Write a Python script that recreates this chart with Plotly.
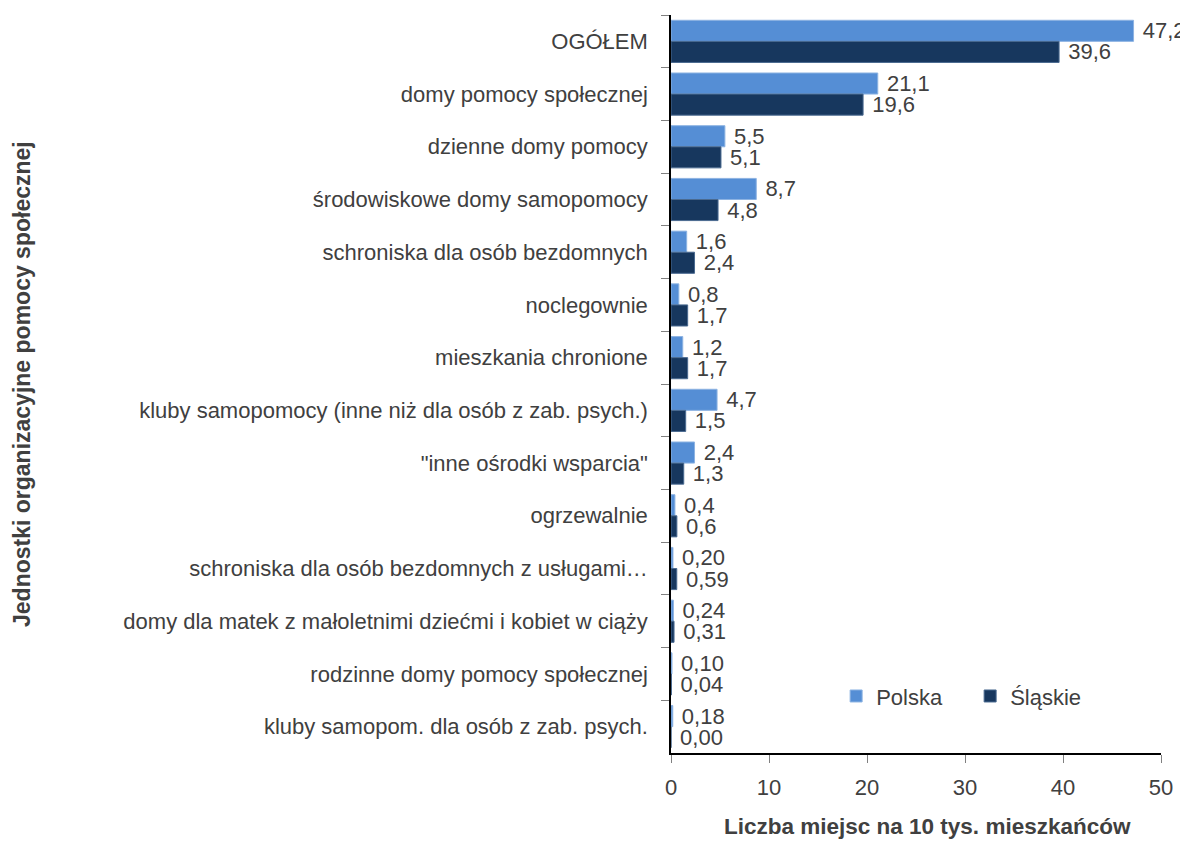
import plotly.graph_objects as go

categories = [
    "OGÓŁEM",
    "domy pomocy społecznej",
    "dzienne domy pomocy",
    "środowiskowe domy samopomocy",
    "schroniska dla osób bezdomnych",
    "noclegownie",
    "mieszkania chronione",
    "kluby samopomocy (inne niż dla osób z zab. psych.)",
    "\"inne ośrodki wsparcia\"",
    "ogrzewalnie",
    "schroniska dla osób bezdomnych z usługami…",
    "domy dla matek z małoletnimi dziećmi i kobiet w ciąży",
    "rodzinne domy pomocy społecznej",
    "kluby samopom. dla osób z zab. psych.",
]
polska = [47.2, 21.1, 5.5, 8.7, 1.6, 0.8, 1.2, 4.7, 2.4, 0.4, 0.20, 0.24, 0.10, 0.18]
polska_txt = ["47,2", "21,1", "5,5", "8,7", "1,6", "0,8", "1,2", "4,7", "2,4", "0,4", "0,20", "0,24", "0,10", "0,18"]
slaskie = [39.6, 19.6, 5.1, 4.8, 2.4, 1.7, 1.7, 1.5, 1.3, 0.6, 0.59, 0.31, 0.04, 0.00]
slaskie_txt = ["39,6", "19,6", "5,1", "4,8", "2,4", "1,7", "1,7", "1,5", "1,3", "0,6", "0,59", "0,31", "0,04", "0,00"]

FONT = "Liberation Sans, Arial, sans-serif"
GREY = "#404040"

# the page body has an 8px margin, so the figure is shifted by 8px inside the window
fig = go.Figure()
fig.add_bar(y=categories, x=polska, name="Polska", orientation="h",
            marker=dict(color="#558ED5", line=dict(color="#8DB3E2", width=1)),
            text=["\u00a0" + t for t in polska_txt], textposition="outside",
            constraintext="none", cliponaxis=False,
            textfont=dict(size=22, color=GREY, family=FONT))
fig.add_bar(y=categories, x=slaskie, name="Śląskie", orientation="h",
            marker=dict(color="#17375E", line=dict(color="#4A6A90", width=1)),
            text=["\u00a0" + t for t in slaskie_txt], textposition="outside",
            constraintext="none", cliponaxis=False,
            textfont=dict(size=22, color=GREY, family=FONT))

fig.update_layout(
    width=1180, height=833,
    margin=dict(l=663, r=27, t=7, b=88, autoexpand=False),
    paper_bgcolor="white", plot_bgcolor="white",
    barmode="group", bargap=0.2, bargroupgap=0,
    font=dict(family=FONT, size=22, color=GREY),
    showlegend=True,
    legend=dict(orientation="h", x=0.337, y=0.077, xanchor="left", yanchor="middle",
                font=dict(size=22, color=GREY, family=FONT),
                traceorder="normal", entrywidth=89, bgcolor="rgba(0,0,0,0)"),
)
fig.update_yaxes(
    categoryorder="array", categoryarray=categories, autorange="reversed",
    showline=True, linecolor="black", linewidth=1.5,
    ticks="outside", tickson="boundaries", ticklen=8, tickcolor="#808080",
    tickfont=dict(size=22, color=GREY, family=FONT), ticklabelstandoff=17,
    showgrid=False,
)
fig.update_xaxes(
    range=[0, 50], dtick=10,
    showline=True, linecolor="black", linewidth=1.5,
    ticks="outside", ticklen=8, tickcolor="#808080",
    tickfont=dict(size=22, color=GREY, family=FONT), ticklabelstandoff=6,
    showgrid=False, zeroline=False,
)
fig.add_annotation(
    text="<b>Liczba miejsc na 10 tys. mieszkańców</b>",
    xref="paper", yref="paper", x=(927 - 671) / 490, y=-(826 - 753) / 738,
    xanchor="center", yanchor="middle", showarrow=False,
    font=dict(size=22.5, color=GREY, family=FONT),
)
fig.add_annotation(
    text="<b>Jednostki organizacyjne pomocy społecznej</b>",
    xref="paper", yref="paper", x=(22 - 671) / 490, y=0.5,
    xanchor="center", yanchor="middle", textangle=-90, showarrow=False,
    font=dict(size=23, color=GREY, family=FONT),
)

fig.write_html("out.html")
